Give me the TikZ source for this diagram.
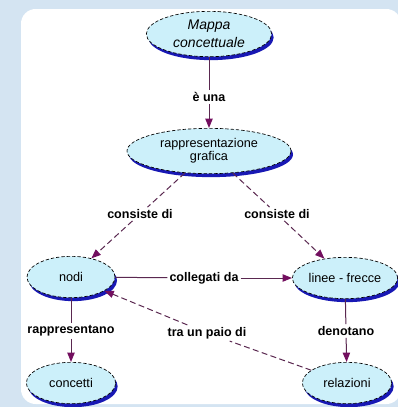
\documentclass[tikz,border=0pt]{standalone}
\usepackage{fontspec}
\setmainfont{Liberation Sans}
\usetikzlibrary{arrows.meta,shapes.geometric,shadows}
\definecolor{bgblue}{RGB}{212,228,242}
\definecolor{conceptfill}{RGB}{204,240,250}
\definecolor{shadowblue}{RGB}{24,24,180}
\definecolor{linecol}{RGB}{90,40,80}
\definecolor{arrowcol}{RGB}{115,15,95}
\tikzset{>={Triangle[length=7pt,width=5.5pt,color=arrowcol]}}
\tikzstyle{concept}  =[ellipse,draw=black,line width=0.5pt,
                       dash pattern=on 2.5pt off 1.5pt,fill=conceptfill,
                       drop shadow={shadow xshift=1.5pt,shadow yshift=-2.6pt,
                                    fill=shadowblue,opacity=1},
                       inner sep=0pt,align=center,
                       font=\fontsize{9.5}{8.5}\selectfont]
\tikzstyle{linkword} =[fill=white,inner sep=1.5pt,
                       font=\bfseries\fontsize{9.4}{11}\selectfont]
\tikzstyle{conn}     =[linecol,line width=0.75pt]
\tikzstyle{dconn}    =[conn,dash pattern=on 4.5pt off 2.5pt]

\begin{document}
\begin{tikzpicture}[x=0.75pt,y=-0.75pt]
  \useasboundingbox (0,0) rectangle (398,407);
  % Background and panel
  \fill[bgblue] (0,0) rectangle (398,407);
  \fill[white,rounded corners=11pt] (21,9) rectangle (401,404);

  % Concepts
  \node[concept,font=\itshape\fontsize{10.5}{13.5}\selectfont,
        minimum width=94pt,minimum height=34pt] (mappa) at (209,34) {Mappa\\concettuale};
  \node[concept,minimum width=123pt,minimum height=34pt] (rappr) at (209,151) {rappresentazione\\grafica};
  \node[concept,minimum width=66pt,minimum height=31pt] (nodi)      at (71,277)  {nodi};
  \node[concept,minimum width=79pt,minimum height=31pt] (linee)     at (345,278) {linee - frecce};
  \node[concept,minimum width=67pt,minimum height=31pt] (concetti)  at (71,383)  {concetti};
  \node[concept,minimum width=67pt,minimum height=31pt] (relazioni) at (347,383) {relazioni};

  % Linking words
  \node[linkword] (lblE)    at (209,97)  {è una};
  \node[linkword] (lblCn)   at (140,214) {consiste di};
  \node[linkword] (lblCl)   at (277,214) {consiste di};
  \node[linkword] (lblColl) at (204,278) {collegati da};
  \node[linkword] (lblRap)  at (71,331)  {rappresentano};
  \node[linkword] (lblTra)  at (207,333) {tra un paio di};
  \node[linkword] (lblDen)  at (346,331) {denotano};

  % Links
  \draw[conn] (mappa) -- (lblE);
  \draw[conn,->] (lblE) -- (rappr);
  \draw[dconn] (rappr) -- (lblCn);
  \draw[dconn,->] (lblCn) -- (nodi);
  \draw[dconn] (rappr) -- (lblCl);
  \draw[dconn,->] (lblCl) -- (linee);
  \draw[conn] (nodi) -- (lblColl);
  \draw[conn,->] (lblColl) -- (linee);
  \draw[conn] (nodi) -- (lblRap);
  \draw[conn,->] (lblRap) -- (concetti);
  \draw[conn] (linee) -- (lblDen);
  \draw[conn,->] (lblDen) -- (relazioni);
  \draw[dconn] (relazioni) -- (lblTra);
  \draw[dconn,->] (lblTra) -- (nodi);
\end{tikzpicture}
\end{document}
